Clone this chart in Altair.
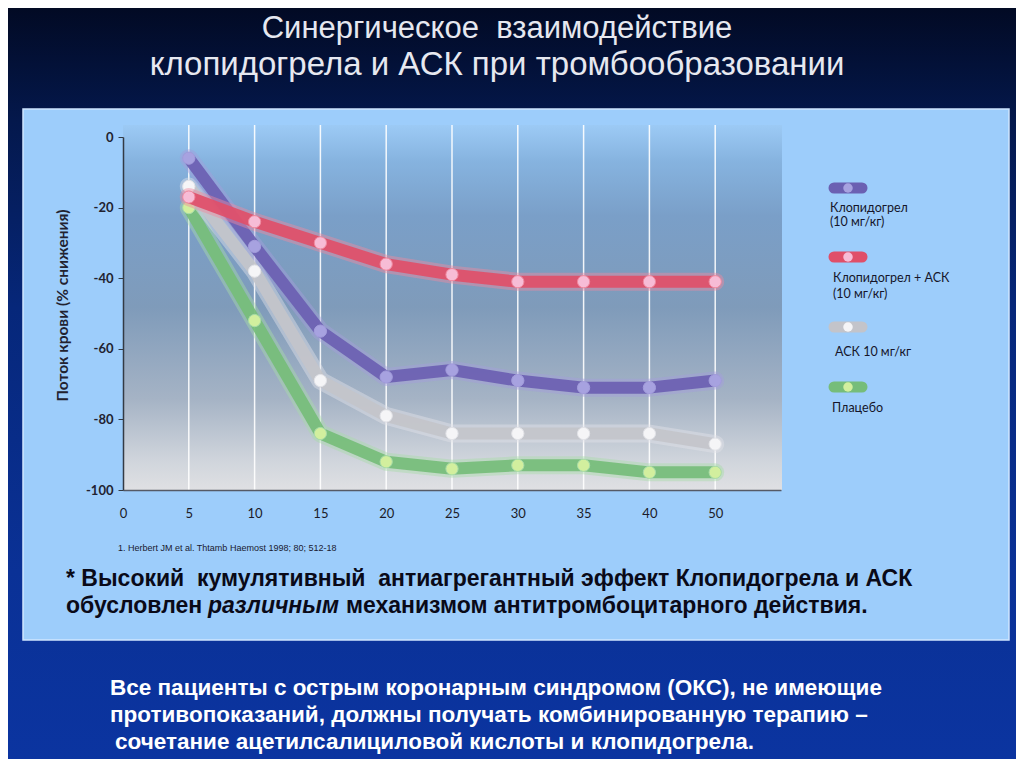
import json
import altair as alt
import pandas as pd

# ---------------- data ----------------
x_labels = ["0", "5", "10", "15", "20", "25", "30", "35", "40", "50"]
series_names = ["Клопидогрел (10 мг/кг)", "Клопидогрел + АСК (10 мг/кг)", "АСК 10 мг/кг", "Плацебо"]
clopidogrel = [-6, -31, -55, -68, -66, -69, -71, -71, -69]
clopidogrel_ask = [-17, -24, -30, -36, -39, -41, -41, -41, -41]
ask = [-14, -38, -69, -79, -84, -84, -84, -84, -87]
placebo = [-20, -52, -84, -92, -94, -93, -93, -95, -95]
y_ticks = [0, -20, -40, -60, -80, -100]

NB = "\u00a0"
title_lines = ["Синергическое " + NB + "взаимодействие", "клопидогрела и АСК при тромбообразовании"]
y_title = "Поток крови (% снижения)"
citation = "1. Herbert JM et al. Thtamb Haemost 1998; 80; 512-18"

series_values = [clopidogrel, clopidogrel_ask, ask, placebo]
rows = []
for name, vals in zip(series_names, series_values):
    for lbl, v in zip(x_labels[1:], vals):
        rows.append({"series": name, "t": lbl, "pos": x_labels.index(lbl), "value": v})
df = pd.DataFrame(rows)
grid_df = pd.DataFrame({"t": x_labels[1:], "pos": [x_labels.index(l) for l in x_labels[1:]],
                        "value": [0] * (len(x_labels) - 1)})

# ---------------- styles ----------------
W, H = 658, 353
styles = {
    series_names[0]: dict(line="#6b60b2", halo="#a39ddc", point="#a7a2e0"),
    series_names[1]: dict(line="#e04f69", halo="#f08aa0", point="#f7bcd6"),
    series_names[2]: dict(line="#c3c4ca", halo="#e2e3e8", point="#f5f5f7"),
    series_names[3]: dict(line="#76bd7a", halo="#a8dca8", point="#d2ef9e"),
}
chart_font = "Lato"
slide_font = "Liberation Sans"


def one():
    return pd.DataFrame({"k": [0]})


def txt(s, x, y, size, color, font, weight="normal", align="left", style="normal",
        baseline="alphabetic"):
    kw = dict(fontSize=size, color=color, font=font, fontWeight=weight, align=align,
              baseline=baseline, fontStyle=style)
    return alt.Chart(pd.DataFrame({"t": [s]})).mark_text(**kw).encode(
        x=alt.value(x), y=alt.value(y), text="t:N")


def grad_rect(stops, x, x2, y, y2):
    g = alt.LinearGradient(gradient="linear", x1=0, x2=0, y1=0, y2=1,
                           stops=[alt.GradientStop(color=c, offset=o) for o, c in stops])
    return alt.Chart(one()).mark_rect(color=g).encode(
        x=alt.value(x), x2=alt.value(x2), y=alt.value(y), y2=alt.value(y2))


x_scale = alt.Scale(domain=[0, 10], nice=False, zero=False)
y_scale = alt.Scale(domain=[-100, 0], nice=False)
label_expr = json.dumps(x_labels) + "[datum.value]"

x_enc = alt.X("pos:Q", scale=x_scale,
              axis=alt.Axis(values=list(range(len(x_labels))), labelExpr=label_expr, ticks=False,
                            grid=False, domainColor="#555a66", domainWidth=1.5, labelFont=chart_font,
                            labelFontSize=13, labelColor="#1b1b28", labelPadding=17, title=None,
                            labelFlush=False, zindex=2))
y_enc = alt.Y("value:Q", scale=y_scale,
              axis=alt.Axis(values=y_ticks, labelExpr="replace(format(datum.value, 'd'), '\u2212', '-')",
                            tickSize=5, tickColor="#333a44",
                            domainColor="#333a44", domainWidth=1.5, grid=False,
                            labelFont=chart_font, labelFontSize=13, labelFontWeight="bold",
                            labelColor="#222230", labelPadding=5, title=y_title,
                            titleFont=chart_font, titleFontSize=15.5, titleFontWeight="bold",
                            titleColor="#222230", titleX=-61, titleY=168, titleAngle=270,
                            titleAlign="center", titleBaseline="middle", zindex=2))

layers = []
# slide background
layers.append(grad_rect([(0, "#020a24"), (0.15, "#04184c"), (0.4, "#06277a"),
                         (0.75, "#0a3196"), (1, "#0b34a0")], -115, 893, -129, 622))
# light panel
layers.append(alt.Chart(one()).mark_rect(fill="#9dcdfb", stroke="#cfe6ff", strokeWidth=1.5).encode(
    x=alt.value(-100), x2=alt.value(886), y=alt.value(-28), y2=alt.value(503)))
# plot area gradient
layers.append(grad_rect([(0, "#9ccaf5"), (0.1, "#86b3df"), (0.25, "#7a9fc8"), (0.5, "#7f9bba"),
                         (0.75, "#a5b3c5"), (0.92, "#d0d5dc"), (1, "#dfe0e3")], 0, 659, -12, H))

# vertical white guide lines (also carries the axes)
layers.append(alt.Chart(grid_df).mark_rule(color="white", strokeWidth=1.5, opacity=0.9).encode(
    x=x_enc, y=alt.value(-12), y2=alt.value(H)))
layers.append(alt.Chart(df).mark_point(opacity=0).encode(x=x_enc, y=y_enc))

draw_order = [series_names[3], series_names[2], series_names[0], series_names[1]]
for name in draw_order:
    st = styles[name]
    d = alt.Chart(df).transform_filter(alt.datum.series == name)
    layers.append(d.mark_line(color=st["halo"], strokeWidth=18, opacity=0.45,
                              strokeCap="round", strokeJoin="round").encode(x=x_enc, y=y_enc))
    layers.append(d.mark_line(color=st["line"], strokeWidth=12, opacity=0.92,
                              strokeCap="round", strokeJoin="round").encode(x=x_enc, y=y_enc))
    layers.append(d.mark_point(filled=True, size=150, color=st["point"], opacity=1,
                               stroke=st["halo"], strokeWidth=1).encode(x=x_enc, y=y_enc))

# custom legend
legend_y = [51, 120, 190, 250]
legend_text = [
    [("Клопидогрел", 707, 71), ("(10 мг/кг)", 707, 85)],
    [("Клопидогрел + АСК", 710, 141), ("(10 мг/кг)", 710, 157)],
    [("АСК 10 мг/кг", 712, 215)],
    [("Плацебо", 709, 271)],
]
for name, ly, texts in zip(series_names, legend_y, legend_text):
    st = styles[name]
    layers.append(alt.Chart(one()).mark_rule(color=st["line"], strokeWidth=11, strokeCap="round").encode(
        x=alt.value(711), x2=alt.value(739), y=alt.value(ly), y2=alt.value(ly)))
    layers.append(alt.Chart(one()).mark_point(filled=True, size=90, color=st["point"], opacity=1).encode(
        x=alt.value(725), y=alt.value(ly)))
    for s, tx, ty in texts:
        layers.append(txt(s, tx, ty, 12.5, "#15152a", chart_font, baseline="middle"))

# titles and slide texts
layers.append(txt(title_lines[0], 374, -99, 31, "#e6e8f0", slide_font, align="center"))
layers.append(txt(title_lines[1], 374, -62, 33, "#e6e8f0", slide_font, align="center"))
layers.append(txt(citation, -5, 411, 9, "#1a1a30", slide_font, baseline="middle"))

layers.append(txt("* Высокий " + NB + "кумулятивный " + NB + "антиагрегантный эффект Клопидогрела и АСК",
                  -57, 449, 23, "#0a0a18", slide_font, weight="bold"))
layers.append(txt("обусловлен", -57, 476, 23, "#0a0a18", slide_font, weight="bold"))
layers.append(txt("различным", 85, 476, 23, "#0a0a18", slide_font, weight="bold", style="italic"))
layers.append(txt("механизмом антитромбоцитарного действия.", 223, 476, 23, "#0a0a18",
                  slide_font, weight="bold"))

layers.append(txt("Все пациенты с острым коронарным синдромом (ОКС), не имеющие",
                  -13, 558, 22.5, "#ffffff", slide_font, weight="bold"))
layers.append(txt("противопоказаний, должны получать комбинированную терапию –",
                  -13, 585, 22.5, "#ffffff", slide_font, weight="bold"))
layers.append(txt("сочетание ацетилсалициловой кислоты и клопидогрела.",
                  -8, 612, 22.5, "#ffffff", slide_font, weight="bold"))

chart = alt.layer(*layers).properties(
    width=W, height=H,
    autosize=alt.AutoSizeParams(type="none"),
    padding={"left": 115, "top": 129, "right": 235, "bottom": 269},
).configure(background="#06277a").configure_view(stroke=None)

chart.save("out.html", embed_options={"renderer": "svg", "actions": False})
